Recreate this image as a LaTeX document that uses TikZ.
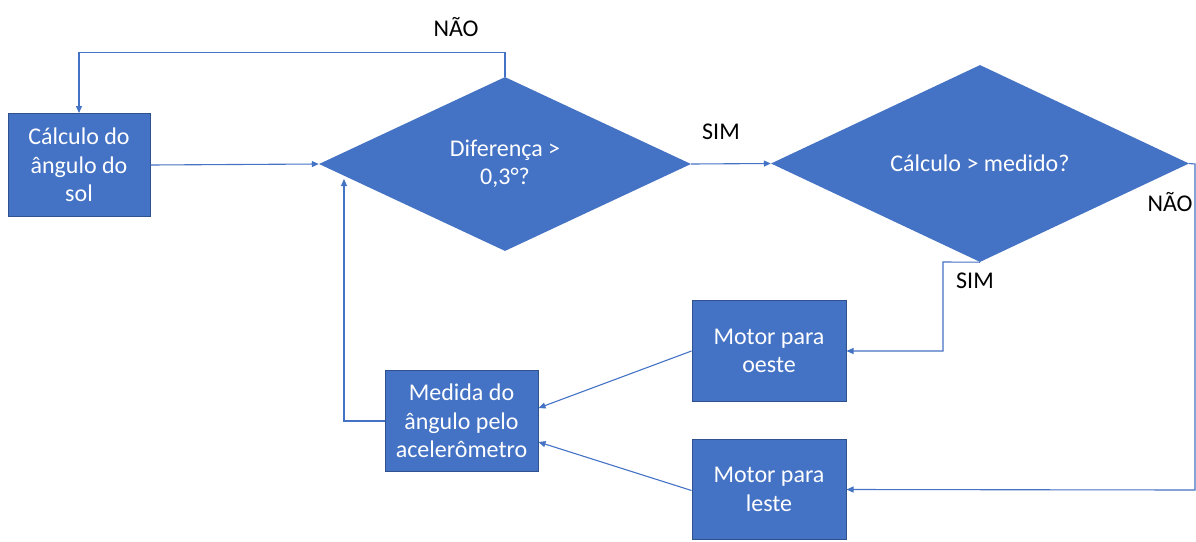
\documentclass[tikz,border=0pt]{standalone}
\usepackage{fontspec}
\setmainfont{Carlito}
\usetikzlibrary{arrows.meta,shapes.geometric,calc}
\definecolor{officeblue}{HTML}{4472C4}
\definecolor{officeedge}{HTML}{2F528F}
\tikzset{
  block/.style={rectangle, fill=officeblue, draw=officeedge, line width=1pt, text=white, align=center, inner sep=0pt, font=\fontsize{24}{28.5}\selectfont},
  decision/.style={diamond, fill=officeblue, draw=none, text=white, align=center, inner sep=0pt, aspect=2.1, font=\fontsize{24}{28.5}\selectfont},
  link/.style={draw=officeblue, line width=1.1pt, -{Triangle[length=7pt,width=6pt]}},
  lbl/.style={text=black, font=\fontsize{24}{28}\selectfont, inner sep=0pt}
}
\begin{document}
\begin{tikzpicture}[x=1pt,y=-1pt]
\useasboundingbox (0,0) rectangle (1196,541);
\node[block, minimum width=142pt, minimum height=103pt] (calc) at (79,165) {Cálculo do\\ângulo do\\sol};
\node[decision, minimum width=372pt, minimum height=174pt] (dif) at (505,164) {Diferença >\\0,3°?};
\node[decision, minimum width=418pt, minimum height=197pt] (cmp) at (980,163.5) {Cálculo > medido?};
\node[block, minimum width=154pt, minimum height=101pt] (oeste) at (769,351) {Motor para\\oeste};
\node[block, minimum width=154pt, minimum height=100pt] (leste) at (769,489.5) {Motor para\\leste};
\node[block, minimum width=153pt, minimum height=101pt] (medida) at (461.5,421) {Medida do\\ângulo pelo\\acelerômetro};

\node[lbl] (nao1) at (456,27) {NÃO};
\node[lbl] (sim1) at (721,132) {SIM};
\node[lbl] (nao2) at (1170,202) {NÃO};
\node[lbl] (sim2) at (975,281) {SIM};

\coordinate (loopA) at (505,52.5);
\coordinate (loopB) at (79,52.5);
\coordinate (simA) at (943,262);
\coordinate (simB) at (943,351);
\coordinate (naoA) at (1195,164);
\coordinate (naoB) at (1195,490);
\coordinate (upA) at (344,421);
\coordinate (upB) at (344,179);

\draw[link] (calc.east) -- (dif.west);
\draw[link] (dif.north) -- (loopA) -- (loopB) -- (calc.north);
\draw[link] (dif.east) -- (cmp.west);
\draw[link] (cmp.south) -- (simA) -- (simB) -- (oeste.east);
\draw[link] (cmp.east) -- (naoA) -- (naoB) -- (leste.east);
\draw[link] (oeste.west) -- ([yshift=13pt]medida.east);
\draw[link] ([yshift=-1pt]leste.west) -- ([yshift=-21pt]medida.east);
\draw[link] (medida.west) -- (upA) -- (upB);
\end{tikzpicture}
\end{document}
